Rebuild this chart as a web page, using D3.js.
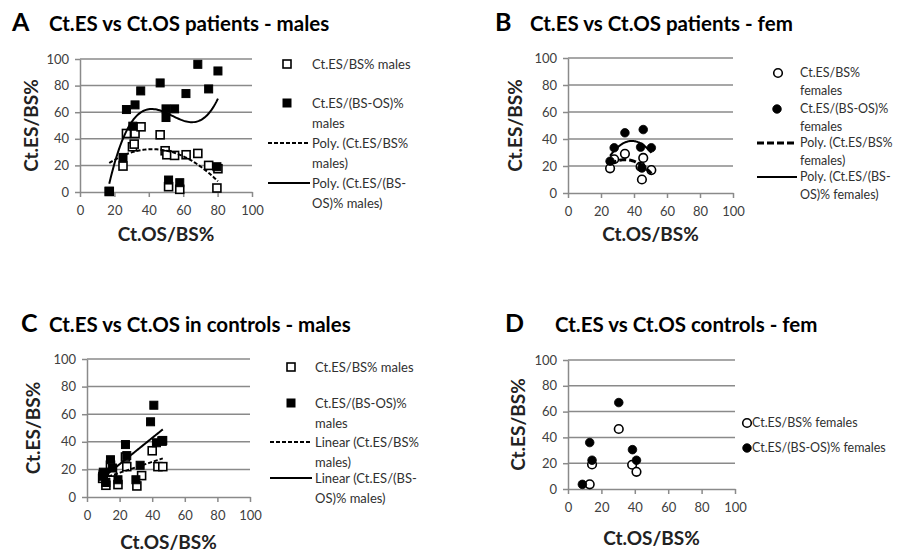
<!DOCTYPE html>
<html>
<head>
<meta charset="utf-8">
<script src="https://cdn.jsdelivr.net/npm/d3@7"></script>
<style>
body { margin: 0; background: #fff; }
svg { display: block; font-family: Lato, "Open Sans", sans-serif; }
</style>
</head>
<body>
<script>
// tick values shared by all four panels
var xTicks = [0, 20, 40, 60, 80, 100];
var yTicks = [0, 20, 40, 60, 80, 100];
var xTitle = "Ct.OS/BS%";
var yTitle = "Ct.ES/BS%";

// A - patients, males
var aOpenX = [17, 25, 27, 30.5, 31.5, 32, 35.5, 46.6, 49.5, 50.5, 51.5, 55, 58, 61.7, 68.5, 74.8, 79.6, 80.2];
var aOpenY = [0.4, 19.5, 44, 34, 36, 44, 49, 43, 31, 28, 4, 27.5, 2, 28, 29, 20, 3, 17.5];
var aFillX = [17, 25, 27, 30.7, 32, 35.3, 46.6, 50, 50, 55, 51.5, 58, 61.6, 68.5, 74.8, 79.6, 80.2];
var aFillY = [0.5, 26, 62, 49.5, 65.5, 76, 82, 62.5, 56, 62.5, 9, 7, 74, 96, 77.5, 19, 91];

// B - patients, females
var bOpenX = [25.5, 28, 34.5, 44, 44.8, 45.6, 50.5];
var bOpenY = [18.3, 25, 29, 19.5, 10, 26, 17];
var bFillX = [25.5, 28, 34.5, 44, 44.8, 45.6, 50.5];
var bFillY = [23.5, 33.5, 44.6, 34, 18.5, 47, 33.5];

// C - controls, males
var cOpenX = [9.6, 10, 11.6, 14.4, 15.6, 19, 23.6, 24.4, 30.6, 33.5, 40, 43.5, 46.5, 46];
var cOpenY = [13.5, 16, 8.5, 23, 18, 9, 29, 22, 8, 15.5, 33.5, 22, 22, 40.5];
var cFillX = [9.6, 10, 11.6, 14.4, 15.6, 19, 23.6, 24.4, 30, 32.6, 39, 41, 42.6, 46.5];
var cFillY = [15, 18, 10.5, 27, 21, 12.5, 38, 30, 12.5, 23, 54.5, 66.5, 39.3, 41];

// D - controls, females
var dOpenX = [13, 14.4, 30.4, 38.4, 41];
var dOpenY = [3.6, 19, 46.5, 18.8, 13.3];
var dFillX = [8.6, 13, 14.4, 30.4, 38.6, 41];
var dFillY = [3.6, 36, 22.3, 67, 30.5, 22.3];

// panel letters, titles, legend texts
var letters = ["A", "B", "C", "D"];
var titles = ["Ct.ES vs Ct.OS patients - males", "Ct.ES vs Ct.OS patients - fem",
              "Ct.ES vs Ct.OS in controls - males", "Ct.ES vs Ct.OS controls - fem"];
var aLegend = [["Ct.ES/BS% males"], ["Ct.ES/(BS-OS)%", "males"], ["Poly. (Ct.ES/BS%", "males)"], ["Poly. (Ct.ES/(BS-", "OS)% males)"]];
var bLegend = [["Ct.ES/BS%", "females"], ["Ct.ES/(BS-OS)%", "females"], ["Poly. (Ct.ES/BS%", "females)"], ["Poly. (Ct.ES/(BS-", "OS)% females)"]];
var cLegend = [["Ct.ES/BS% males"], ["Ct.ES/(BS-OS)%", "males"], ["Linear (Ct.ES/BS%", "males)"], ["Linear (Ct.ES/(BS-", "OS)% males)"]];
var dLegend = [["Ct.ES/BS% females"], ["Ct.ES/(BS-OS)% females"]];

var W = 904, H = 552;
var gridCol = "#8a8a8a", textCol = "#404040";

var svg = d3.select("body").append("svg")
    .attr("width", W)
    .attr("height", H);
svg.append("rect").attr("width", W).attr("height", H).attr("fill", "#fff");

// least squares polynomial (Excel style trendline)
function polyfit(xs, ys, order) {
    var n = order + 1, A = [], b = [];
    for (var i = 0; i < n; i++) { A.push(new Array(n).fill(0)); b.push(0); }
    xs.forEach(function (x, k) {
        for (var i = 0; i < n; i++) {
            b[i] += ys[k] * Math.pow(x, i);
            for (var j = 0; j < n; j++) A[i][j] += Math.pow(x, i + j);
        }
    });
    for (var c = 0; c < n; c++) {
        var p = c;
        for (var r = c + 1; r < n; r++) if (Math.abs(A[r][c]) > Math.abs(A[p][c])) p = r;
        var t = A[c]; A[c] = A[p]; A[p] = t;
        var tb = b[c]; b[c] = b[p]; b[p] = tb;
        for (var r2 = 0; r2 < n; r2++) {
            if (r2 === c) continue;
            var f = A[r2][c] / A[c][c];
            for (var k = c; k < n; k++) A[r2][k] -= f * A[c][k];
            b[r2] -= f * b[c];
        }
    }
    return b.map(function (v, i) { return v / A[i][i]; });
}

function drawMarker(g, kind, filled, x, y) {
    if (kind === "square") {
        g.append("rect")
            .attr("x", x - 4).attr("y", y - 4)
            .attr("width", 8).attr("height", 8)
            .attr("fill", filled ? "#000" : "#fff")
            .attr("stroke", "#000").attr("stroke-width", filled ? 1 : 1.6);
    } else {
        g.append("circle")
            .attr("cx", x).attr("cy", y).attr("r", 4.3)
            .attr("fill", filled ? "#000" : "#fff")
            .attr("stroke", "#000").attr("stroke-width", filled ? 0.8 : 1.6);
    }
}

function drawPanel(p) {
    var x = d3.scaleLinear().domain([0, 100]).range([p.left, p.right]);
    var y = d3.scaleLinear().domain([0, 100]).range([p.bottom, p.top]);
    var g = svg.append("g");

    // horizontal gridlines
    g.selectAll(".grid").data(yTicks.slice(1)).enter().append("line")
        .attr("x1", p.left).attr("x2", p.right)
        .attr("y1", function (d) { return y(d); })
        .attr("y2", function (d) { return y(d); })
        .attr("stroke", gridCol).attr("stroke-width", 1.5);

    var xAxis = d3.axisBottom(x).tickValues(xTicks).tickSizeInner(5).tickSizeOuter(0).tickPadding(9);
    var yAxis = d3.axisLeft(y).tickValues(yTicks).tickSizeInner(5).tickSizeOuter(0).tickPadding(6);

    var gx = g.append("g").attr("transform", "translate(0," + p.bottom + ")").call(xAxis);
    var gy = g.append("g").attr("transform", "translate(" + p.left + ",0)").call(yAxis);
    [gx, gy].forEach(function (a) {
        a.select(".domain").attr("stroke", gridCol).attr("stroke-width", 1.5);
        a.selectAll(".tick line").attr("stroke", gridCol).attr("stroke-width", 1.5);
        a.selectAll("text").attr("fill", textCol).style("font-size", "13px").style("font-family", "Lato");
    });

    // titles
    svg.append("text").attr("x", p.letterX).attr("y", p.titleY)
        .style("font-size", "25px").style("font-weight", "bold").text(p.letter);
    svg.append("text").attr("x", p.titleX).attr("y", p.titleY)
        .style("font-size", "20.5px").style("font-weight", "bold").text(p.title);
    svg.append("text")
        .attr("transform", "translate(" + p.yTitleX + "," + ((p.top + p.bottom) / 2) + ") rotate(-90)")
        .attr("text-anchor", "middle").attr("dy", "0.35em")
        .style("font-size", "19px").style("font-weight", "bold").attr("fill", "#222")
        .text(yTitle);
    svg.append("text")
        .attr("x", (p.left + p.right) / 2).attr("y", p.xTitleY)
        .attr("text-anchor", "middle")
        .style("font-size", "19px").style("font-weight", "bold").attr("fill", "#222")
        .text(xTitle);

    // points
    p.openX.forEach(function (d, i) { drawMarker(g, p.marker, false, x(d), y(p.openY[i])); });
    p.fillX.forEach(function (d, i) { drawMarker(g, p.marker, true, x(d), y(p.fillY[i])); });

    // trendlines
    var line = d3.line().x(function (d) { return x(d[0]); }).y(function (d) { return y(d[1]); });
    if (p.order) {
        [[p.openX, p.openY, p.order[0], p.dash], [p.fillX, p.fillY, p.order[1], null]].forEach(function (s) {
            var c = polyfit(s[0], s[1], s[2]);
            var ext = d3.extent(s[0]);
            var pts = d3.range(0, 81).map(function (k) {
                var xv = ext[0] + (ext[1] - ext[0]) * k / 80;
                var yv = c.reduce(function (acc, ci, i) { return acc + ci * Math.pow(xv, i); }, 0);
                return [xv, yv];
            });
            g.append("path").datum(pts).attr("d", line)
                .attr("fill", "none").attr("stroke", "#000")
                .attr("stroke-width", s[3] ? p.dashW : 2)
                .attr("stroke-dasharray", s[3]);
        });
    }

    // legend
    var lg = svg.append("g").style("font-size", p.legFont + "px").attr("fill", "#303030");
    p.legend.forEach(function (lines, i) {
        var it = p.legItems[i];
        if (i < 2) {
            drawMarker(lg, p.marker, i === 1, it[0], it[1]);
        } else {
            lg.append("line").attr("x1", p.legLine[0]).attr("x2", p.legLine[1])
                .attr("y1", it[1]).attr("y2", it[1])
                .attr("stroke", "#000").attr("stroke-width", i === 2 ? p.dashW : 2)
                .attr("stroke-dasharray", i === 2 ? p.dash : null);
        }
        lines.forEach(function (t, j) {
            lg.append("text").attr("x", p.legTextX).attr("y", it[1] + j * p.legStep)
                .attr("dy", "0.35em").text(t);
        });
    });
}

drawPanel({
    letter: letters[0], title: titles[0], letterX: 12, titleX: 49, titleY: 31,
    left: 80, right: 252, top: 59, bottom: 192, yTitleX: 31, xTitleY: 241,
    marker: "square", openX: aOpenX, openY: aOpenY, fillX: aFillX, fillY: aFillY,
    order: [2, 3], dash: "4,2", dashW: 2,
    legend: aLegend, legItems: [[287, 64], [287, 103], [0, 143], [0, 183]],
    legLine: [268, 310], legTextX: 312, legStep: 20.5, legFont: 13
});
drawPanel({
    letter: letters[1], title: titles[1], letterX: 495, titleX: 530, titleY: 31,
    left: 568, right: 733, top: 58, bottom: 193, yTitleX: 515, xTitleY: 241,
    marker: "circle", openX: bOpenX, openY: bOpenY, fillX: bFillX, fillY: bFillY,
    order: [2, 2], dash: "7,3", dashW: 3,
    legend: bLegend, legItems: [[778, 73], [777, 109], [0, 143], [0, 177]],
    legLine: [757, 797], legTextX: 800, legStep: 18, legFont: 12.5
});
drawPanel({
    letter: letters[2], title: titles[2], letterX: 21, titleX: 49, titleY: 332,
    left: 87, right: 250, top: 359, bottom: 497, yTitleX: 33, xTitleY: 549,
    marker: "square", openX: cOpenX, openY: cOpenY, fillX: cFillX, fillY: cFillY,
    order: [1, 1], dash: "4,2", dashW: 2,
    legend: cLegend, legItems: [[291, 367], [291, 403], [0, 442], [0, 478]],
    legLine: [270, 312], legTextX: 315, legStep: 20, legFont: 13
});
drawPanel({
    letter: letters[3], title: titles[3], letterX: 505, titleX: 555, titleY: 332,
    left: 568, right: 735, top: 360, bottom: 489, yTitleX: 518, xTitleY: 545,
    marker: "circle", openX: dOpenX, openY: dOpenY, fillX: dFillX, fillY: dFillY,
    order: null,
    legend: dLegend, legItems: [[747, 423], [747, 448]],
    legLine: [0, 0], legTextX: 752, legStep: 18, legFont: 12.5
});
</script>
</body>
</html>
